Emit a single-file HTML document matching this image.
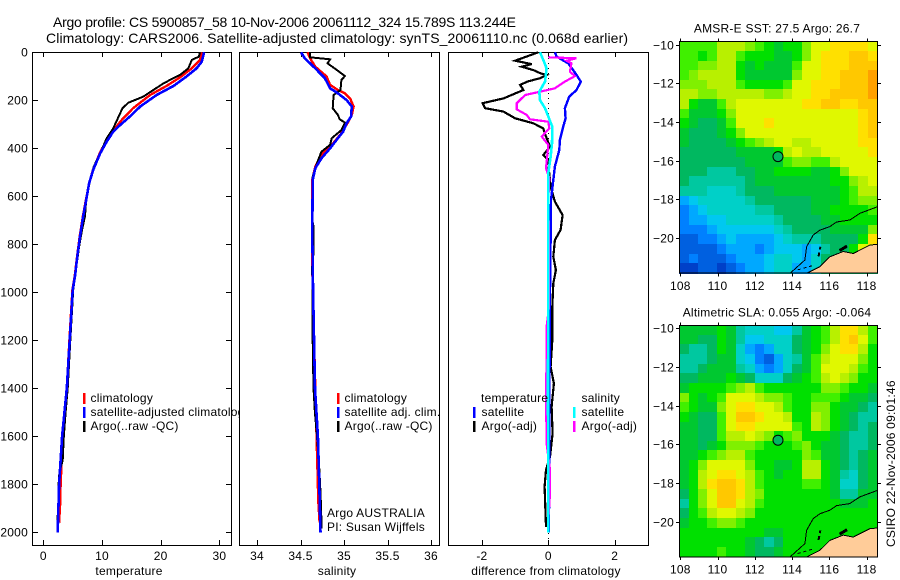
<!DOCTYPE html>
<html>
<head>
<meta charset="utf-8">
<title>Argo profile chart</title>
<style>
html,body{margin:0;padding:0;background:#fff;}
svg{display:block;}
text{font-family:"Liberation Sans",sans-serif;font-size:12px;letter-spacing:0.23px;fill:#000;}
.title{font-size:14px;letter-spacing:0;}
</style>
</head>
<body>
<svg id="chart" width="900" height="580" viewBox="0 0 900 580" xmlns="http://www.w3.org/2000/svg">
<rect x="0" y="0" width="900" height="580" fill="#fff"/>
<text class="title" x="53" y="27" textLength="463" lengthAdjust="spacing">Argo profile: CS 5900857_58 10-Nov-2006 20061112_324 15.789S 113.244E</text>
<text class="title" x="46" y="43" textLength="582" lengthAdjust="spacing">Climatology: CARS2006. Satellite-adjusted climatology: synTS_20061110.nc (0.068d earlier)</text>
<g id="panels"></g>
<g id="maps"></g>
<text transform="translate(895,547) rotate(-90)" x="0" y="0">CSIRO 22-Nov-2006 09:01:46</text>
</svg>
<script>
// ---------- Profile data ----------
const depthTickValues = [0,200,400,600,800,1000,1200,1400,1600,1800,2000];
const tempTickValues = [0,10,20,30];
const salTickValues = [34,34.5,35,35.5,36];
const salTickLabels = ['34','34.5','35','35.5','36'];
const diffTickValues = [-2,0,2];

const tempClimDepths = [0,32,67,104,140,178,233,275,317,365,421,490,553,615,683,767,850,933,990,1200,1400,1640,1800,1870,1960];
const tempClimValues = [27.0,26.7,25.3,23.3,21,18.2,15.3,13.6,12.2,10.8,9.6,8.45,7.75,7.25,6.75,6.2,5.75,5.35,4.95,4.45,4.0,3.25,2.95,2.9,2.7];
const tempSatDepths = [0,39,67,101,140,178,226,260,303,331,372,421,490,546,615,683,767,850,933,990,1200,1400,1600,1800,2000];
const tempSatValues = [27.4,27.0,26.1,24.4,22.2,19.3,16.5,15.1,13.1,11.9,10.8,9.7,8.5,7.8,7.3,6.8,6.25,5.8,5.4,5.0,4.5,4.0,3.2,2.7,2.45];
const tempArgoDepths = [0,18,32,67,94,115,129,157,185,210,233,317,358,421,476,532,601,683,740,810,879,990,1200,1400,1500,1600,1700,1750,1800,1850,1950,1980];
const tempArgoValues = [26.7,26.5,25.3,24.7,23.3,21.6,20.5,18.75,17,14.5,13.5,11.9,10.8,9.7,8.6,8,7.35,7.1,6.6,6.1,5.7,5.1,4.6,4.15,3.8,3.5,3.3,2.75,2.6,2.7,2.4,2.4];

const salClimDepths = [0,25,60,101,136,157,171,192,226,261,289,337,386,428,476,532,893,1400,1870,1960];
const salClimValues = [34.58,34.61,34.67,34.80,34.84,34.93,35.01,35.07,35.11,35.09,35.05,34.97,34.86,34.74,34.67,34.635,34.635,34.67,34.705,34.72];
const salSatDepths = [0,25,67,108,150,171,199,226,268,296,331,358,400,442,483,532,754,976,1400,1600,1800,2000];
const salSatValues = [34.506,34.55,34.67,34.78,34.84,34.93,35.03,35.09,35.08,35.03,34.99,34.93,34.84,34.74,34.67,34.64,34.636,34.644,34.667,34.70,34.716,34.73];
const salArgoDepths = [0,21,29,46,74,99,115,157,178,233,261,279,293,324,358,386,414,462,518,700,726,837,893,1200,1400,1500,1600,1700,1800,1880,1950,1985];
const salArgoValues = [34.61,34.61,34.84,34.81,34.92,35.01,34.97,34.96,34.88,34.87,34.93,34.95,35.01,34.97,34.86,34.84,34.74,34.69,34.64,34.636,34.65,34.65,34.635,34.64,34.65,34.665,34.69,34.71,34.725,34.735,34.74,34.74];

const diffTempSatDepths = [0,18,46,74,94,122,157,185,233,275,310,365,407,476,532,615,782,1000,1500,2000];
const diffTempSatValues = [0.2,0.25,0.6,0.75,0.85,0.98,0.85,0.63,0.5,0.52,0.45,0.35,0.33,0.2,0.15,0.08,0.07,0.05,0.03,0.02];
const diffTempArgoDepths = [0,35,49,60,74,88,94,108,122,136,157,192,212,233,247,275,296,317,351,393,428,449,476,504,560,622,678,740,782,852,907,963,1060,1199,1310,1380,1477,1588,1685,1740,1810,1977];
const diffTempArgoValues = [-0.3,-1.0,-0.5,-0.8,-0.45,-0.23,-0.05,-0.25,-0.63,-0.85,-0.75,-1.35,-1.98,-1.9,-1.35,-1.0,-0.45,-0.15,-0.07,0.05,-0.15,0,-0.07,0.03,0.07,0.2,0.43,0.37,0.2,0.15,0.23,0.15,0.12,0.12,0.07,0.17,0.1,0.13,0.05,-0.07,-0.11,-0.07];
const diffSalSatDepths = [0,32,67,122,164,199,233,268,310,379,435,504,615,782,1400,2000];
const diffSalSatValues = [-0.25,-0.15,-0.05,-0.1,-0.27,-0.25,-0.1,0,0.12,0.11,0.07,0,0,0,-0.01,0];
const diffSalArgoDepths = [21,25,35,46,81,99,122,150,164,178,212,238,261,279,289,317,351,386,428,483,525,615,782,1060,1144,1380,1520,1629,1685,1740,1840,1950];
const diffSalArgoValues = [0,0.85,0.55,0.7,0.65,0.8,0.5,0.2,-0.25,-0.7,-0.95,-0.95,-0.65,-0.55,0,0.03,-0.2,0,-0.03,-0.07,0.03,0,0.02,0.02,-0.05,-0.06,-0.06,-0.05,0,0.05,0.05,0];

// ---------- Map data: colour-scale level per half-degree cell ----------
const mapLonTicks = [108,110,112,114,116,118];
const mapLatTicks = [-10,-12,-14,-16,-18,-20];
const mapColors = ['#0040c8','#0060e0','#0080ff','#00a8ff','#00c8f0','#00d0c8','#00c8a0','#00b860','#00c830','#00e000','#40f000','#80f000','#b8f000','#e0f800','#ffe000','#ffc800','#ffa000'];
const sstGrid = [
[10,10,10,10,12,12,12,11,10,9,8,9,9,11,13,13,14,14,14,14,13],
[10,10,9,10,12,12,10,9,9,9,8,8,9,11,13,14,14,14,15,15,14],
[10,10,11,11,12,12,9,8,9,8,8,8,10,13,13,14,14,14,15,15,15],
[10,11,12,12,12,12,9,8,8,8,8,8,11,13,13,14,14,15,15,15,16],
[11,11,11,12,12,12,10,9,9,9,9,10,13,13,14,14,14,15,15,15,16],
[12,12,11,11,12,12,12,12,12,11,11,12,13,13,14,14,15,15,15,15,16],
[12,9,8,8,10,12,13,13,13,13,13,13,13,14,14,15,15,14,14,15,15],
[10,8,8,8,9,11,13,13,13,13,13,13,13,13,13,13,13,13,13,14,15],
[9,8,7,7,8,10,13,13,13,14,13,13,13,13,13,13,13,13,13,14,15],
[8,7,7,7,8,9,11,13,13,13,13,13,13,13,13,13,13,13,13,14,15],
[8,7,7,7,7,8,9,10,11,12,13,13,12,12,13,13,13,13,13,14,14],
[7,7,7,7,7,7,8,8,8,8,9,12,13,12,12,13,13,13,13,13,14],
[7,7,7,7,7,7,7,8,8,8,8,10,11,11,10,10,12,13,13,13,13],
[7,7,7,6,6,6,7,7,8,8,9,9,9,9,8,8,9,11,13,13,13],
[7,6,6,6,6,6,6,7,8,8,8,8,8,8,8,8,9,9,11,12,13],
[6,6,6,5,5,5,6,7,7,7,8,8,8,8,8,8,8,9,10,12,12],
[3,4,5,5,5,5,5,6,7,7,7,7,7,7,8,8,8,9,10,11,11],
[2,3,4,5,5,5,5,5,6,6,7,7,7,7,8,8,9,9,9,9,10],
[2,3,3,4,4,5,5,5,5,5,6,7,7,7,7,8,8,9,9,9,9],
[2,2,2,3,4,4,4,4,4,4,5,6,7,7,7,7,8,8,8,8,11],
[1,1,2,2,3,4,3,3,3,3,4,5,6,6,6,7,7,7,7,9,14],
[1,1,1,1,2,3,3,3,2,3,4,4,4,3,4,6,7,7,9,13,13],
[1,2,1,1,1,2,3,3,3,4,5,5,4,3,5,7,7,7,7,7,7],
[0,0,1,1,0,1,2,3,3,4,5,5,3,3,5,7,7,7,7,7,7]
];
const slaGrid = [
[8,8,8,8,9,8,6,5,5,5,4,4,6,8,9,10,12,14,14,12,10],
[8,8,7,7,9,8,6,4,4,5,5,5,7,8,9,10,12,14,15,13,10],
[7,6,6,7,9,8,5,3,2,3,5,5,7,8,9,11,13,14,14,12,9],
[6,6,6,7,8,8,5,4,2,1,3,5,6,8,10,12,13,13,13,11,9],
[6,6,7,8,8,8,6,5,3,2,3,5,7,8,10,13,13,13,12,10,9],
[7,7,8,8,8,9,8,7,5,5,5,7,8,9,10,12,13,12,11,9,9],
[8,9,9,9,9,10,11,12,10,9,9,9,9,9,9,11,11,10,9,9,8],
[11,9,8,9,10,13,13,13,12,11,11,10,9,9,10,10,10,9,8,8,7],
[10,9,8,8,11,13,14,14,13,13,12,10,9,9,11,11,9,8,8,7,6],
[9,8,7,7,10,13,15,15,14,13,13,12,9,9,12,11,9,8,7,6,6],
[8,8,7,7,10,13,14,14,13,13,13,13,10,9,12,11,9,8,7,6,7],
[8,8,7,7,10,12,12,13,12,11,9,10,11,9,9,9,8,7,6,6,7],
[8,8,7,8,9,11,11,11,10,9,9,9,10,11,9,8,8,7,6,6,7],
[8,8,9,10,11,12,12,10,9,9,9,9,9,11,10,8,8,7,6,7,8],
[8,9,11,13,13,13,13,11,9,9,8,8,9,12,12,9,8,7,6,7,8],
[8,9,12,13,14,14,13,12,10,9,8,9,9,12,12,9,8,6,5,7,8],
[8,9,12,14,15,15,14,12,10,9,9,9,9,10,10,9,8,5,5,7,8],
[7,9,11,13,15,15,14,12,11,9,9,9,9,9,9,9,8,6,6,8,8],
[6,9,11,13,15,15,13,12,10,9,9,9,9,9,9,9,9,8,8,8,9],
[7,9,10,12,13,13,12,11,9,9,9,9,9,9,9,9,9,9,9,9,9],
[8,9,9,10,11,11,10,9,9,9,9,9,9,9,9,9,9,9,9,9,9],
[9,9,9,9,9,9,9,9,9,8,8,9,9,9,9,9,9,9,9,9,9],
[9,9,9,9,9,9,9,8,7,6,7,9,9,9,9,9,9,9,9,9,9],
[9,9,9,9,10,9,9,8,7,7,8,9,9,9,9,9,9,9,9,9,9]
];
const landLons = [114.78,115.5,116.03,116.75,117.28,118.18,118.6,118.6];
const landLats = [-21.83,-21.48,-20.97,-20.7,-20.8,-20.36,-20.33,-21.83];
const shelfLons = [113.89,114.69,114.78,115.14,115.5,116.03,116.39,117.1,117.64,118.59];
const shelfLats = [-21.83,-21.14,-20.45,-19.84,-19.59,-19.41,-19.17,-19.07,-18.72,-18.38];
const profileLon = 113.244;
const profileLat = -15.789;

// ---------- Axis functions ----------
const NS = 'http://www.w3.org/2000/svg';
const panelsGroup = document.getElementById('panels');
const mapsGroup = document.getElementById('maps');
const yDepth = d => 52.3 + 0.24 * d;
const xTemp = v => 43.3 + 5.87 * v;
const xSal = v => 257 + 87 * (v - 34);
const xDiff = v => 548.3 + 33.2 * v;
const lonX = v => 680.3 + 18.63 * (v - 108);

function make(tag, attrs, parent) {
  const el = document.createElementNS(NS, tag);
  for (const k in attrs) el.setAttribute(k, attrs[k]);
  parent.appendChild(el);
  return el;
}
function hLine(x1, x2, y, parent) {
  return make('line', {x1: x1, x2: x2, y1: y, y2: y, stroke: '#000', 'stroke-width': 1, 'shape-rendering': 'crispEdges'}, parent);
}
function vLine(x, y1, y2, color, w, parent) {
  return make('line', {x1: x, x2: x, y1: y1, y2: y2, stroke: color, 'stroke-width': w, 'shape-rendering': 'crispEdges'}, parent);
}
function drawProfile(depths, values, xScale, color, width, name, parent) {
  const pts = depths.map((d, i) => xScale(values[i]).toFixed(1) + ',' + yDepth(d).toFixed(1)).join(' ');
  const line = make('polyline', {points: pts, fill: 'none', stroke: color, 'stroke-width': width, 'stroke-linejoin': 'miter', 'shape-rendering': 'crispEdges'}, parent);
  
  
}
function addText(str, x, y, anchor, name, parent) {
  const t = make('text', {x: x, y: y, 'text-anchor': anchor}, parent);
  t.textContent = str;
  
  
  return t;
}
function drawFrame(left, right, top, bottom, name, parent) {
  const r = make('rect', {x: left + 0.5, y: top + 0.5, width: right - left, height: bottom - top, fill: '#fff', stroke: '#000', 'stroke-width': 1, 'shape-rendering': 'crispEdges'}, parent);
  
  
}
function drawXTicks(values, labels, xScale, top, bottom, parent) {
  values.forEach((v, i) => {
    const x = Math.round(xScale(v)) + 0.5;
    const tb = vLine(x, bottom - 5, bottom, '#000', 1, parent);
    
    
    const tt = vLine(x, top, top + 5, '#000', 1, parent);
    
    
    addText(labels[i], xScale(v), 560, 'middle', 'x-tick-label', parent);
  });
}
function drawLegendEntry(color, x, swatchTop, text, textX, baseline, parent) {
  const s = vLine(x, swatchTop, swatchTop + 11, color, 2.5, parent);
  
  
  addText(text, textX, baseline, 'start', 'legend-label', parent);
}

// ---------- Panel 1: temperature ----------
const p1 = make('g', {}, panelsGroup);


drawFrame(32, 231, 52, 545, 'temperature-plot-frame', p1);
depthTickValues.forEach(d => {
  const y = Math.round(yDepth(d)) + 0.5;
  const a = hLine(33, 38, y, p1);
  
  
  const b = hLine(226, 231, y, p1);
  
  
  addText(String(d), 28, y + 4, 'end', 'depth-tick-label', panelsGroup);
});
drawXTicks(tempTickValues, tempTickValues.map(String), xTemp, 52, 545, p1);
drawProfile(tempClimDepths, tempClimValues, xTemp, '#ff0000', 2.4, 'temperature-climatology-line', p1);
drawProfile(tempArgoDepths, tempArgoValues, xTemp, '#000000', 2, 'temperature-argo-line', p1);
drawProfile(tempSatDepths, tempSatValues, xTemp, '#0000ff', 2.6, 'temperature-satellite-line', p1);
drawLegendEntry('#ff0000', 84, 393, 'climatology', 90.5, 402, p1);
drawLegendEntry('#0000ff', 84, 407, 'satellite-adjusted climatology', 90.5, 416, p1);
drawLegendEntry('#000000', 84, 421, 'Argo(..raw -QC)', 90.5, 430, p1);
addText('temperature', 129, 575, 'middle', 'temperature-axis-title', p1);

// ---------- Panel 2: salinity ----------
const p2 = make('g', {}, panelsGroup);


drawFrame(239, 439, 52, 545, 'salinity-plot-frame', p2);
drawXTicks(salTickValues, salTickLabels, xSal, 52, 545, p2);
drawProfile(salClimDepths, salClimValues, xSal, '#ff0000', 2.4, 'salinity-climatology-line', p2);
drawProfile(salArgoDepths, salArgoValues, xSal, '#000000', 2, 'salinity-argo-line', p2);
drawProfile(salSatDepths, salSatValues, xSal, '#0000ff', 2.6, 'salinity-satellite-line', p2);
drawLegendEntry('#ff0000', 338, 393, 'climatology', 344.5, 402, p2);
drawLegendEntry('#0000ff', 338, 407, 'satellite adj. clim.', 344.5, 416, p2);
drawLegendEntry('#000000', 338, 421, 'Argo(..raw -QC)', 344.5, 430, p2);
addText('Argo AUSTRALIA', 327, 517, 'start', 'float-owner-label', p2);
addText('PI: Susan Wijffels', 327, 531, 'start', 'principal-investigator-label', p2);
addText('salinity', 337, 575, 'middle', 'salinity-axis-title', p2);

// ---------- Panel 3: differences ----------
const p3 = make('g', {}, panelsGroup);


drawFrame(448, 648, 52, 545, 'difference-plot-frame', p3);
drawXTicks(diffTickValues, diffTickValues.map(String), xDiff, 52, 545, p3);
const zeroLine = make('line', {x1: Math.round(xDiff(0)) + 0.5, x2: Math.round(xDiff(0)) + 0.5, y1: 53, y2: 544, stroke: '#000', 'stroke-width': 1, 'stroke-dasharray': '1 4', 'shape-rendering': 'crispEdges'}, p3);


drawProfile(diffTempArgoDepths, diffTempArgoValues, xDiff, '#000000', 2.2, 'difference-temperature-argo-line', p3);
drawProfile(diffTempSatDepths, diffTempSatValues, xDiff, '#0000ff', 2.4, 'difference-temperature-satellite-line', p3);
drawProfile(diffSalArgoDepths, diffSalArgoValues, xDiff, '#ff00ff', 2.2, 'difference-salinity-argo-line', p3);
drawProfile(diffSalSatDepths, diffSalSatValues, xDiff, '#00ffff', 2.6, 'difference-salinity-satellite-line', p3);
addText('temperature', 481, 402, 'start', 'legend-heading-temperature', p3);
drawLegendEntry('#0000ff', 474, 407, 'satellite', 481.5, 416, p3);
drawLegendEntry('#000000', 474, 421, 'Argo(-adj)', 481.5, 430, p3);
addText('salinity', 581.5, 402, 'start', 'legend-heading-salinity', p3);
drawLegendEntry('#00ffff', 574, 407, 'satellite', 581.5, 416, p3);
drawLegendEntry('#ff00ff', 574, 421, 'Argo(-adj)', 581.5, 430, p3);
addText('difference from climatology', 546, 575, 'middle', 'difference-axis-title', p3);

// ---------- Maps ----------
function drawMap(grid, top, bottom, lat10Y, titleText, prefix) {
  const latY = v => lat10Y + 19.33 * (-10 - v);
  const g = make('g', {}, mapsGroup);
  
  
  const left = 679.7, cellW = 9.43, cellH = (bottom - top) / grid.length;
  grid.forEach((row, r) => {
    row.forEach((level, c) => {
      const x0 = Math.floor(left + c * cellW), x1 = Math.ceil(left + (c + 1) * cellW);
      const y0 = Math.floor(top + r * cellH), y1 = Math.ceil(top + (r + 1) * cellH);
      const cell = make('rect', {x: x0, y: y0, width: x1 - x0, height: y1 - y0, fill: mapColors[level], 'shape-rendering': 'crispEdges'}, g);
      
      
    });
  });
  const clipId = prefix + '-clip';
  const clip = make('clipPath', {id: clipId}, g);
  make('rect', {x: 680, y: top, width: 198, height: bottom - top}, clip);
  const overlay = make('g', {'clip-path': 'url(#' + clipId + ')'}, g);
  const land = make('polygon', {points: landLons.map((v, i) => lonX(v).toFixed(1) + ',' + latY(landLats[i]).toFixed(1)).join(' '), fill: '#ffcc99', stroke: '#000', 'stroke-width': 1, 'shape-rendering': 'crispEdges'}, overlay);
  
  
  const shelf = make('polyline', {points: shelfLons.map((v, i) => lonX(v).toFixed(1) + ',' + latY(shelfLats[i]).toFixed(1)).join(' '), fill: 'none', stroke: '#000', 'stroke-width': 1, 'shape-rendering': 'crispEdges'}, overlay);
  
  
  const isl1 = make('line', {x1: lonX(115.42), y1: latY(-20.95), x2: lonX(115.52), y2: latY(-20.45), stroke: '#000', 'stroke-width': 2, 'stroke-dasharray': '4 3', 'shape-rendering': 'crispEdges'}, overlay);
  
  
  const isl2 = make('line', {x1: lonX(116.55), y1: latY(-20.65), x2: lonX(116.95), y2: latY(-20.42), stroke: '#000', 'stroke-width': 3, 'shape-rendering': 'crispEdges'}, overlay);
  
  
  const isl3 = make('line', {x1: lonX(114.3), y1: latY(-21.65), x2: lonX(115.2), y2: latY(-21.4), stroke: '#000', 'stroke-width': 1, 'stroke-dasharray': '3 3', 'shape-rendering': 'crispEdges'}, overlay);
  
  
  const frame = make('rect', {x: 679.5, y: top - 0.2, width: 198, height: bottom - top, fill: 'none', stroke: '#000', 'stroke-width': 1, 'shape-rendering': 'crispEdges'}, g);
  
  
  const marker = make('circle', {cx: lonX(profileLon), cy: latY(profileLat), r: 5, fill: '#00b860', stroke: '#000', 'stroke-width': 1}, g);
  
  
  mapLonTicks.forEach(v => {
    const x = Math.round(lonX(v)) + 0.5;
    const t1 = vLine(x, top - 3, top, '#000', 1, g);
    
    
    const t2 = vLine(x, bottom, bottom + 3, '#000', 1, g);
    
    
    addText(String(v), lonX(v), bottom + 16.5, 'middle', 'longitude-tick-label', g);
  });
  mapLatTicks.forEach(v => {
    const y = Math.round(latY(v)) + 0.5;
    const t1 = hLine(676, 680, y, g);
    
    
    const t2 = hLine(878, 881, y, g);
    
    
    addText('\u2212' + Math.abs(v), 674, y + 4, 'end', 'latitude-tick-label', g);
  });
  addText(titleText, 777, top - 9, 'middle', prefix + '-map-title', g);
}
drawMap(sstGrid, 41.7, 273.3, 44.7, 'AMSR-E SST: 27.5 Argo: 26.7', 'sst');
drawMap(slaGrid, 325.7, 557, 328.3, 'Altimetric SLA: 0.055 Argo: -0.064', 'sla');
</script>
</body>
</html>
